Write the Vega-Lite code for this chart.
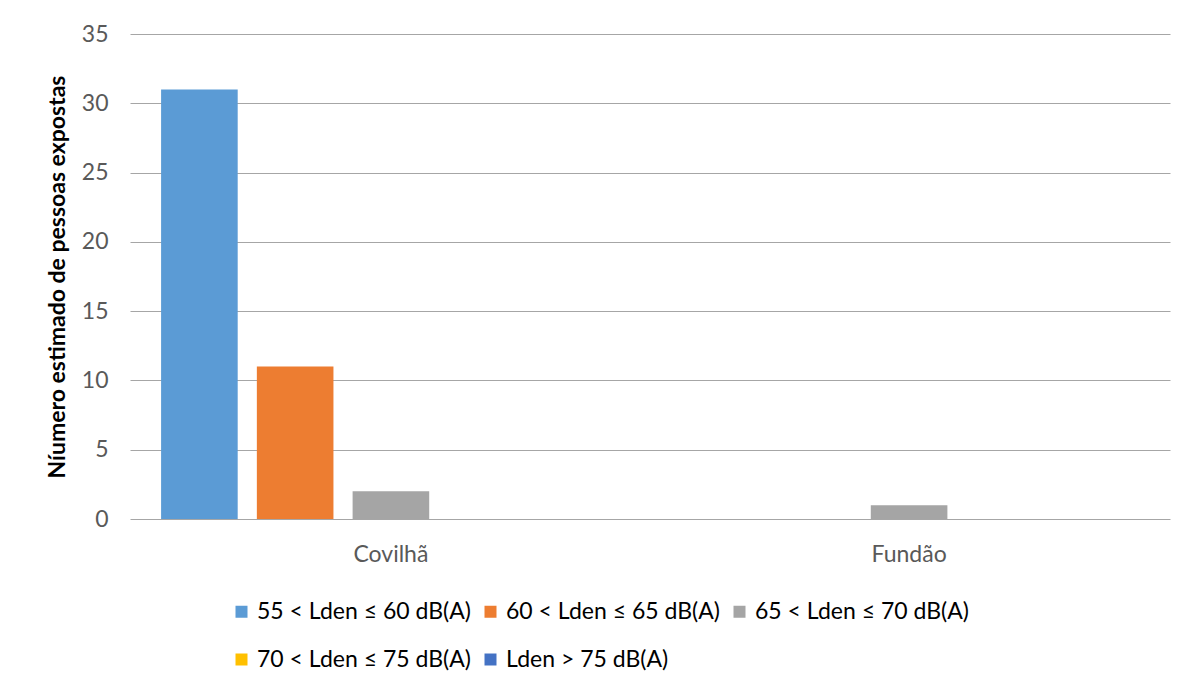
{
  "$schema": "https://vega.github.io/schema/vega-lite/v6.json",
  "width": 1040,
  "height": 485,
  "autosize": {"type": "none"},
  "padding": {"left": 130, "top": 34, "right": 27, "bottom": 171},
  "background": "white",
  "config": {
    "view": {"stroke": null},
    "font": "Lato"
  },
  "data": {
    "values": [
      {"city": "Covilhã", "serie": "55 < Lden ≤ 60 dB(A)", "value": 31},
      {"city": "Covilhã", "serie": "60 < Lden ≤ 65 dB(A)", "value": 11},
      {"city": "Covilhã", "serie": "65 < Lden ≤ 70 dB(A)", "value": 2},
      {"city": "Covilhã", "serie": "70 < Lden ≤ 75 dB(A)", "value": 0},
      {"city": "Covilhã", "serie": "Lden > 75 dB(A)", "value": 0},
      {"city": "Fundão", "serie": "55 < Lden ≤ 60 dB(A)", "value": 0},
      {"city": "Fundão", "serie": "60 < Lden ≤ 65 dB(A)", "value": 0},
      {"city": "Fundão", "serie": "65 < Lden ≤ 70 dB(A)", "value": 1},
      {"city": "Fundão", "serie": "70 < Lden ≤ 75 dB(A)", "value": 0},
      {"city": "Fundão", "serie": "Lden > 75 dB(A)", "value": 0}
    ]
  },
  "mark": {"type": "bar"},
  "encoding": {
    "x": {
      "field": "city",
      "type": "nominal",
      "sort": ["Covilhã", "Fundão"],
      "scale": {"paddingInner": 0.113, "paddingOuter": 0.06},
      "axis": {
        "title": null,
        "labelAngle": 0,
        "labelFontSize": 23,
        "labelColor": "#595959",
        "labelPadding": 24,
        "ticks": false,
        "domain": false
      }
    },
    "xOffset": {
      "field": "serie",
      "type": "nominal",
      "sort": ["55 < Lden ≤ 60 dB(A)", "60 < Lden ≤ 65 dB(A)", "65 < Lden ≤ 70 dB(A)", "70 < Lden ≤ 75 dB(A)", "Lden > 75 dB(A)"],
      "scale": {"paddingInner": 0.2, "paddingOuter": 0}
    },
    "y": {
      "field": "value",
      "type": "quantitative",
      "scale": {"domain": [0, 35], "nice": false},
      "axis": {
        "values": [0, 5, 10, 15, 20, 25, 30, 35],
        "title": "Níumero estimado de pessoas expostas",
        "titleFontSize": 23,
        "titleFontWeight": "bold",
        "titleColor": "#000000",
        "titlePadding": 12,
        "labelFontSize": 23,
        "labelColor": "#595959",
        "labelPadding": 22,
        "ticks": false,
        "domain": false,
        "gridColor": "#A6A6A6",
        "gridWidth": 1
      }
    },
    "color": {
      "field": "serie",
      "type": "nominal",
      "scale": {
        "domain": ["55 < Lden ≤ 60 dB(A)", "60 < Lden ≤ 65 dB(A)", "65 < Lden ≤ 70 dB(A)", "70 < Lden ≤ 75 dB(A)", "Lden > 75 dB(A)"],
        "range": ["#5B9BD5", "#ED7D31", "#A5A5A5", "#FFC000", "#4472C4"]
      },
      "legend": {
        "title": null,
        "orient": "none",
        "legendX": 100,
        "legendY": 566,
        "direction": "horizontal",
        "columns": 3,
        "columnPadding": 8,
        "rowPadding": 24,
        "symbolType": "square",
        "symbolSize": 144,
        "symbolStrokeWidth": 0,
        "labelFontSize": 23,
        "labelColor": "#000000",
        "labelOffset": 4,
        "labelLimit": 400
      }
    }
  }
}
